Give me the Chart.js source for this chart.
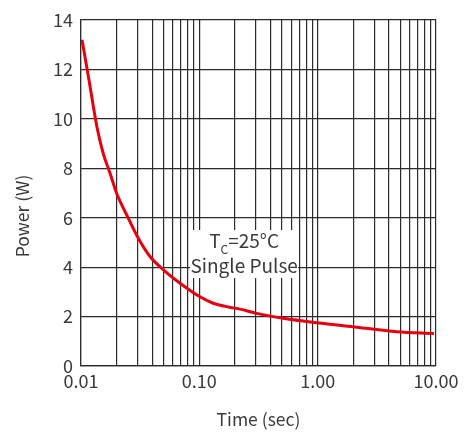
<!DOCTYPE html>
<html>
<head>
<meta charset="utf-8">
<script src="https://cdn.jsdelivr.net/npm/chart.js@4/dist/chart.umd.min.js"></script>
<style>
  html, body { margin: 0; padding: 0; background: #fff; }
  #wrap { width: 471px; height: 434px; }
</style>
</head>
<body>
<div id="wrap"><canvas id="power-chart"></canvas></div>
<script>
// Single pulse power vs time
const times  = [0.0102, 0.0117, 0.0136, 0.0154, 0.0176, 0.02, 0.0251, 0.0305, 0.0383, 0.0497, 0.0687, 0.1014, 0.131, 0.18, 0.221, 0.305, 0.513, 0.98, 2.14, 4.66, 9.6];
const powers = [13.2, 11.55, 9.7, 8.6, 7.8, 6.99, 5.98, 5.17, 4.43, 3.89, 3.35, 2.8, 2.54, 2.38, 2.3, 2.13, 1.93, 1.75, 1.57, 1.39, 1.32];

const xGridValues = [];
[0.01, 0.1, 1].forEach(d => {
    for (let i = 1; i < 10; i++) xGridValues.push(+(d * i).toFixed(4));
});
xGridValues.push(10);
const xLabelValues = [0.01, 0.1, 1, 10];

const textColor = '#3a3a3a';
const gridColor = '#2b2b2b';
const fontFamily = '"Noto Sans CJK SC", "Noto Sans", sans-serif';

// Tc / single pulse note with a white box behind it, plus the y title
const notePlugin = {
    id: 'note',
    afterDraw(chart) {
        const ctx = chart.ctx;
        const cx = chart.scales.x.getPixelForValue(0.239);
        const cy = chart.scales.y.getPixelForValue(4.53);
        ctx.save();
        ctx.fillStyle = '#fff';
        ctx.fillRect(cx - 54, cy - 24, 108, 48);
        ctx.fillStyle = textColor;
        ctx.textBaseline = 'alphabetic';

        // line 1: T_C=25°C
        const big = '19px ' + fontFamily;
        const small = '12px ' + fontFamily;
        ctx.font = big;
        const wT = ctx.measureText('T').width;
        const wRest = ctx.measureText('=25°C').width;
        ctx.font = small;
        const wC = ctx.measureText('C').width;
        let x = cx - (wT + wC + wRest) / 2;
        const y1 = cy - 6;
        ctx.font = big;
        ctx.textAlign = 'left';
        ctx.fillText('T', x, y1);
        x += wT;
        ctx.font = small;
        ctx.fillText('C', x, y1 + 6);
        x += wC;
        ctx.font = big;
        ctx.fillText('=25°C', x, y1);

        // line 2
        ctx.textAlign = 'center';
        ctx.fillText('Single Pulse', cx, cy + 19);

        // y axis title
        ctx.translate(22, 216);
        ctx.rotate(-Math.PI / 2);
        ctx.textBaseline = 'middle';
        ctx.font = '17.5px ' + fontFamily;
        ctx.fillText('Power (W)', 0, 0);
        ctx.restore();
    }
};

const ctx = document.getElementById('power-chart').getContext('2d');
new Chart(ctx, {
    type: 'line',
    data: {
        datasets: [{
            data: times.map((t, i) => ({ x: t, y: powers[i] })),
            borderColor: '#e60012',
            borderWidth: 3,
            pointRadius: 0,
            cubicInterpolationMode: 'monotone',
            fill: false
        }]
    },
    options: {
        responsive: true,
        maintainAspectRatio: false,
        animation: false,
        layout: { padding: { top: 20, right: 35, left: 0, bottom: 0 } },
        plugins: {
            legend: { display: false },
            tooltip: { enabled: false }
        },
        scales: {
            x: {
                type: 'logarithmic',
                min: 0.01,
                max: 10,
                afterBuildTicks: scale => {
                    scale.ticks = xGridValues.map(v => ({ value: v }));
                },
                afterFit: scale => { scale.height = 68; },
                ticks: {
                    autoSkip: false,
                    maxRotation: 0,
                    padding: 4,
                    color: textColor,
                    font: { family: fontFamily, size: 18 },
                    callback: v => xLabelValues.some(d => Math.abs(d - v) < 1e-9) ? v.toFixed(2) : ''
                },
                grid: { color: gridColor, lineWidth: 1.2, drawTicks: false },
                border: { color: gridColor, width: 1.2 },
                title: {
                    display: true,
                    text: 'Time (sec)',
                    color: textColor,
                    font: { family: fontFamily, size: 17.5 },
                    padding: { top: 13 }
                }
            },
            y: {
                min: 0,
                max: 14,
                afterFit: scale => { scale.width = 81; },
                ticks: {
                    stepSize: 2,
                    padding: 8,
                    color: textColor,
                    font: { family: fontFamily, size: 18 }
                },
                grid: { color: gridColor, lineWidth: 1.2, drawTicks: false },
                border: { color: gridColor, width: 1.2 }
            }
        }
    },
    plugins: [notePlugin]
});
</script>
</body>
</html>
